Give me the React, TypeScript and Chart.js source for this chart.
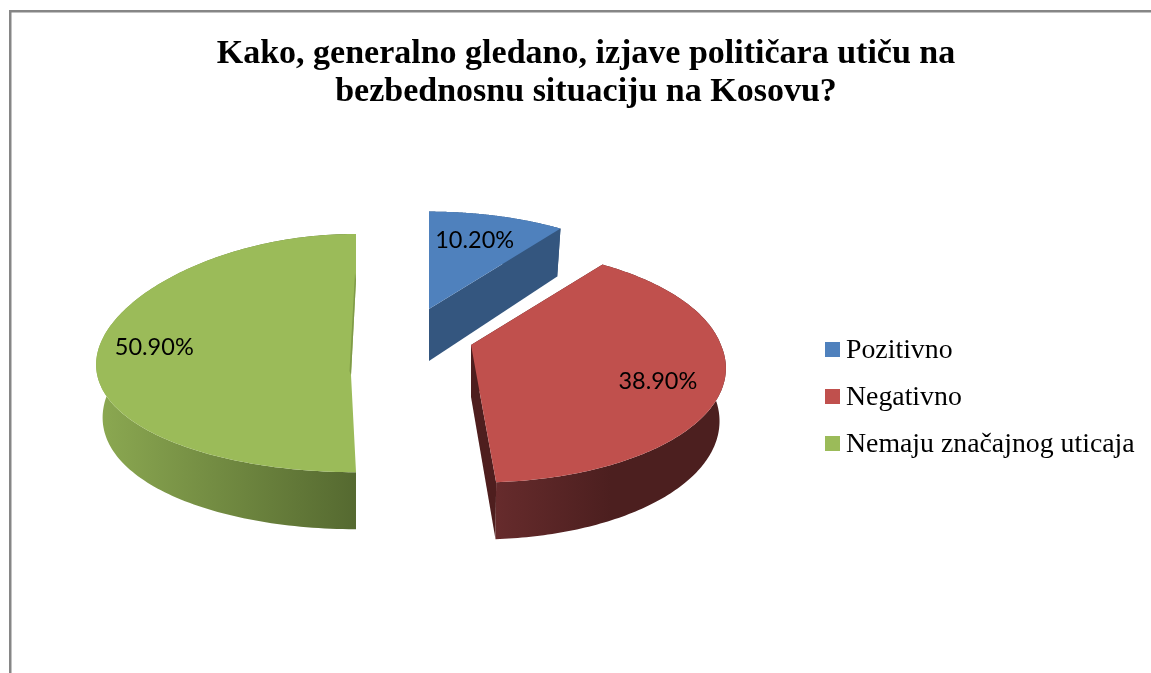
import React, { useEffect, useRef } from "react";
import { Chart, registerables } from "chart.js";

Chart.register(...registerables);

const categories = ["Pozitivno", "Negativno", "Nemaju značajnog uticaja"];
const shares = [10.2, 38.9, 50.9];
const colors = ["#4F81BD", "#C0504D", "#9BBB59"];
const titleLines = [
  "Kako, generalno gledano, izjave političara utiču na",
  "bezbednosnu situaciju na Kosovu?",
];

// Explosion offsets and projection of each slice, relative to the pie the library lays out.
type SliceStyle = {
  dx: number; dy: number; ax: number; by: number; k: number; skew: number; bump: number;
  labelDx: number; labelDy: number; wall: [string, string]; wallFrom: number; wallTo: number; radial: string;
};
const sliceStyles: SliceStyle[] = [
  { dx: -157, dy: -69.6, ax: 0.96, by: 0.438, k: 0.17, skew: 0, bump: 0, labelDx: -7, labelDy: 4, wall: ["#34567F", "#34567F"], wallFrom: 0, wallTo: 130, radial: "#34567F" },
  { dx: -115, dy: -33.6, ax: 0.96, by: 0.438, k: 0.17, skew: 0.027, bump: 0, labelDx: -1, labelDy: 11, wall: ["#662B2C", "#4C1F1F"], wallFrom: 25, wallTo: 140, radial: "#4E1E1E" },
  { dx: -230, dy: -47.6, ax: 0.981, by: 0.442, k: 0.185, skew: 0, bump: 12, labelDx: -9.5, labelDy: 7, wall: ["#8BA851", "#556930"], wallFrom: -256, wallTo: 1, radial: "" },
];
const legendBox = { x: 825, y: 342, size: 15, pitch: 47, gap: 6, textDrop: 1 };

type Geo = SliceStyle & { cx: number; cy: number; A: number; B: number };

function top(s: Geo, th: number, r = 1, clamp = false) {
  let u = Math.sin(th) * r;
  const v = Math.cos(th) * r;
  if (clamp) u = Math.min(u, 0);
  const d = 1 + s.k * v;
  const su = u + s.skew * Math.max(0, -v);
  return { x: s.cx + (s.A * su) / d, y: s.cy - (s.B * v) / d + s.bump * u * u };
}
function bottom(s: Geo, th: number, r = 1, clamp = false) {
  const p = top(s, th, r, clamp);
  const v = Math.cos(th) * r;
  return { x: s.cx + (p.x - s.cx) * 0.975, y: p.y + 52 - 5 * v };
}

const pie3d = {
  id: "pie3d",
  beforeDraw(chart: any) {
    const c = chart.ctx;
    c.save();
    c.fillStyle = "#868686";
    c.fillRect(9, 10, chart.width - 9, 2.5);
    c.fillRect(9, 10, 2.5, chart.height - 10);
    c.restore();
  },
  beforeDatasetsDraw(chart: any) {
    const c = chart.ctx;
    const arcs = chart.getDatasetMeta(0).data;
    arcs.forEach((arc: any, i: number) => {
      const st = sliceStyles[i];
      const s: Geo = {
        ...st,
        cx: arc.x + st.dx,
        cy: arc.y + st.dy,
        A: arc.outerRadius * st.ax,
        B: arc.outerRadius * st.by,
      };
      const clamp = i === 2;
      const a0 = arc.startAngle + Math.PI / 2;
      const a1 = arc.endAngle + Math.PI / 2;
      const steps = 160;
      const ths: number[] = [];
      for (let n = 0; n <= steps; n++) ths.push(a0 + ((a1 - a0) * n) / steps);
      c.save();
      // radial side walls
      if (s.radial) {
        [a0, a1].forEach((th) => {
          const p = [top(s, th, 0), top(s, th), bottom(s, th), bottom(s, th, 0)];
          c.beginPath();
          p.forEach((q, n) => (n ? c.lineTo(q.x, q.y) : c.moveTo(q.x, q.y)));
          c.closePath();
          c.fillStyle = s.radial;
          c.fill();
        });
      }
      // outer wall, swept from the top rim to the bottom rim
      const g = c.createLinearGradient(s.cx + s.wallFrom, 0, s.cx + s.wallTo, 0);
      g.addColorStop(0, s.wall[0]);
      g.addColorStop(1, s.wall[1]);
      c.beginPath();
      for (let n = 0; n < steps; n++) {
        const t0 = top(s, ths[n], 1, clamp);
        const t1 = top(s, ths[n + 1], 1, clamp);
        const b1 = bottom(s, ths[n + 1], 1, clamp);
        const b0 = bottom(s, ths[n], 1, clamp);
        c.moveTo(t0.x, t0.y);
        c.lineTo(t1.x, t1.y);
        c.lineTo(b1.x, b1.y);
        c.lineTo(b0.x, b0.y);
        c.closePath();
      }
      c.fillStyle = g;
      c.fill();
      // top face
      c.beginPath();
      ths.forEach((th, n) => {
        const q = top(s, th, 1, clamp);
        n ? c.lineTo(q.x, q.y) : c.moveTo(q.x, q.y);
      });
      if (clamp) {
        c.lineTo(s.cx, s.cy - 51);
        c.lineTo(s.cx - 5, s.cy + 44);
      } else {
        c.lineTo(s.cx, s.cy);
      }
      c.closePath();
      c.fillStyle = colors[i];
      c.fill();
      if (clamp) {
        // inner sliver on the green slice
        c.beginPath();
        c.moveTo(s.cx - 1, s.cy - 58);
        c.lineTo(s.cx, s.cy - 51);
        c.lineTo(s.cx - 5, s.cy + 44);
        c.lineTo(s.cx - 6.5, s.cy + 40);
        c.closePath();
        c.fillStyle = "#7F9A48";
        c.fill();
      }
      // data label
      const mid = (a0 + a1) / 2;
      const lp = top(s, mid, 0.75);
      c.fillStyle = "#000";
      c.font = "23.5px Lato";
      c.textAlign = "center";
      c.textBaseline = "middle";
      c.fillText(shares[i].toFixed(2) + "%", lp.x + s.labelDx, lp.y + s.labelDy);
      c.restore();
    });
    // legend
    c.save();
    categories.forEach((name, i) => {
      const y = legendBox.y + i * legendBox.pitch;
      c.fillStyle = colors[i];
      c.fillRect(legendBox.x, y, legendBox.size, legendBox.size);
      c.fillStyle = "#000";
      c.font = "27.8px 'Liberation Serif'";
      c.textAlign = "left";
      c.textBaseline = "alphabetic";
      c.fillText(name, legendBox.x + legendBox.size + legendBox.gap, y + legendBox.size + legendBox.textDrop);
    });
    c.restore();
    return false;
  },
};

export default function App() {
  const ref = useRef<HTMLCanvasElement>(null);
  useEffect(() => {
    document.body.style.margin = "0";
    const chart = new Chart(ref.current!, {
      type: "pie",
      data: {
        labels: categories,
        datasets: [{ data: shares, backgroundColor: colors, borderWidth: 0 }],
      },
      options: {
        animation: false,
        responsive: false,
        layout: { padding: { left: 29, right: 8, top: 0, bottom: 34 } },
        plugins: {
          tooltip: { enabled: false },
          legend: { display: false },
          title: {
            display: true,
            text: titleLines,
            color: "#000",
            font: { family: "Liberation Serif", size: 34, weight: "bold", lineHeight: 1.122 },
            padding: { top: 35, bottom: 7 },
          },
        },
      },
      plugins: [pie3d],
    } as any);
    return () => chart.destroy();
  }, []);
  return <canvas ref={ref} width={1151} height={673} style={{ display: "block" }} />;
}
